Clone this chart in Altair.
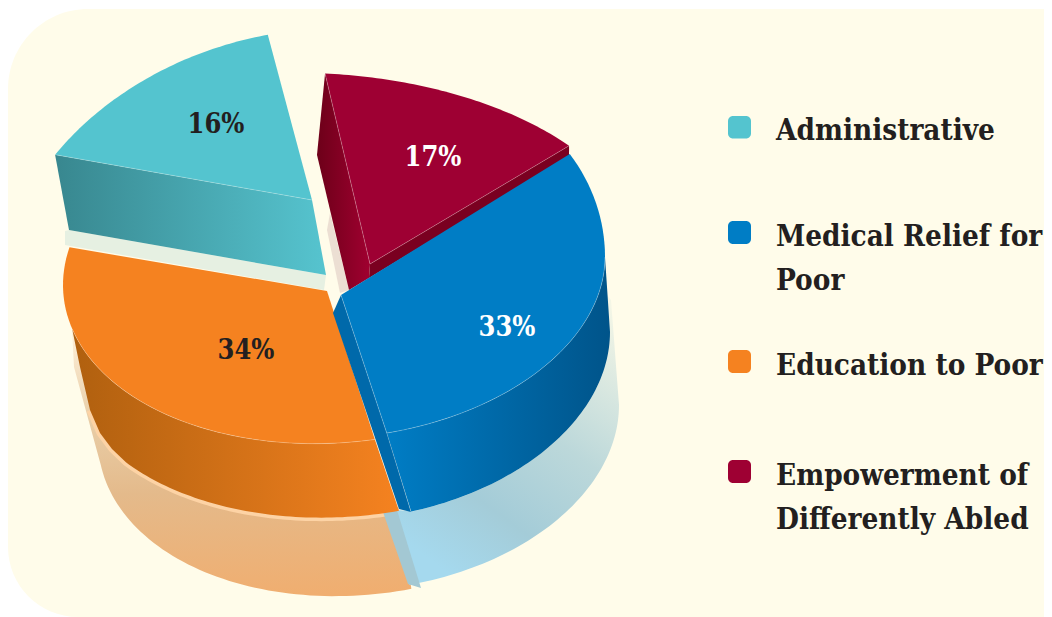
import numpy as np
import pandas as pd
import altair as alt

# ---- data ----
categories = ["Administrative", "Medical Relief for Poor", "Education to Poor", "Empowerment of Differently Abled"]
shares = [16, 33, 34, 17]
legend_lines = [["Administrative"], ["Medical Relief for", "Poor"], ["Education to Poor"], ["Empowerment of", "Differently Abled"]]

# ---- styles ----
TEAL, BLUE, ORANGE, CRIMSON = "#54c4cf", "#007dc5", "#f58220", "#9e0033"
INK = "#231f20"
CREAM = "#fffcea"
FONT = "DejaVu Serif Condensed"

# ---- view geometry: ellipses of the tilted drawing ----
def E(cx, cy, rx, ry, s=15, ry_up=None):
    return dict(cx=cx, cy=cy, rx=rx, ry=ry, s=s, ry_up=ry_up or ry)

def pts(e, t0, t1, n=60):
    out = []
    for t in np.radians(np.linspace(t0, t1, n)):
        c = np.cos(t)
        r = e["ry_up"] if c > 0 else e["ry"]
        out.append((e["cx"] + e["rx"] * np.sin(t), e["cy"] - r * c - e["s"] * np.sin(t)))
    return out

X = alt.X("x:Q", axis=None, scale=alt.Scale(domain=[8, 1044], nice=False, zero=False))
Y = alt.Y("y:Q", axis=None, scale=alt.Scale(domain=[617, 8], nice=False, zero=False))

def grad(stops, x1=0, y1=0, x2=1, y2=0):
    return alt.Gradient(gradient="linear", x1=x1, y1=y1, x2=x2, y2=y2,
                        stops=[alt.GradientStop(offset=o, color=c) for o, c in stops])

def poly(points, fill):
    df = pd.DataFrame(points, columns=["x", "y"]).assign(i=lambda d: range(len(d)))
    return alt.Chart(df).mark_line(fill=fill, strokeWidth=0, strokeOpacity=0).encode(x=X, y=Y, order="i:Q")

def seam(points, color="#ffffff", opacity=0.3, width=0.8):
    df = pd.DataFrame(points, columns=["x", "y"]).assign(i=lambda d: range(len(d)))
    return alt.Chart(df).mark_line(stroke=color, strokeOpacity=opacity, strokeWidth=width).encode(x=X, y=Y, order="i:Q")

# angular extent of each slice comes from its share, foreshortened by the tilt
def sweep(name, start, stretch):
    return start, start + shares[categories.index(name)] * 3.6 * stretch

T0, T1 = sweep(categories[0], 305.9, 0.863)
B0, B1 = sweep(categories[1], 60.0, 0.9276)
O0, O1 = sweep(categories[2], 172.3, 0.90)
C0, C1 = sweep(categories[3], -1.9, 0.869)

teal_top = E(290, 262, 290, 230.5, s=34.4)
blue_top = E(342, 272, 263, 166, ry_up=210)
blue_bot = E(350, 347, 260, 173)
blue_ref = E(365, 420, 254, 170)
orange_top = E(338, 270, 275, 173)
orange_bot = E(345, 344, 278, 173)
orange_ref = E(365, 420, 267, 175, s=20)
crimson_top = E(335, 226, 300, 152, s=-19)

layers = []

# card behind the chart
card = pd.DataFrame({"x": [8], "x2": [1044], "y": [9], "y2": [617]})
layers.append(alt.Chart(card).mark_rect(color=CREAM, cornerRadiusTopLeft=80, cornerRadiusBottomLeft=70).encode(
    x=X, x2="x2:Q", y=Y, y2="y2:Q"))

# soft reflected base
wall_left = [(73, 333), (80, 367), (90, 410), (100, 433), (112, 449)]
layers.append(poly(pts(orange_ref, 170, 262) + [(83, 400), (74, 367), (72, 329)] + pts(orange_bot, 232, 168.8),
                   grad([(0, "#fdeed6"), (0.3, "#e9cfa9"), (0.6, "#e4ba8b"), (1, "#f0ae70")], 0.5, 0, 0.55, 1)))
layers.append(seam(pts(orange_bot, 168.8, 232) + wall_left[::-1][:3], "#fdd3a5", 1, 7))
layers.append(poly(pts(blue_ref, 170, 90) + [(611, 300)] + pts(blue_bot, 75, 166) + [(397, 510)],
                   grad([(0, "#f4f6e6"), (0.45, "#bcd8da"), (0.75, "#a4ccd8"), (1, "#a5d9ee")], 0.85, 0, 0.3, 1)))
layers.append(poly([(383, 512), (397, 510), (421, 588), (408, 584)], "#a3c8d3"))
layers.append(poly([(327, 230), (330, 213), (349, 290), (340, 293)], "#ecdfd3"))
layers.append(poly([(65, 231), (69, 230), (326, 275), (324, 290), (65, 245)], "#e6f0e2"))

# teal slice
tt = pts(teal_top, T0, T1)
layers.append(poly([tt[0], (69, 230), (326, 275), (312, 200)], grad([(0, "#38878f"), (1, "#56c4cf")])))
layers.append(poly([(312, 200)] + tt, TEAL))
layers.append(seam([tt[0], (312, 200)]))

# crimson slice
ct = pts(crimson_top, C0, C1)
layers.append(poly([ct[0], (317, 155), (349, 290), (369, 278), (370, 264)], grad([(0, "#6d0019"), (1, "#a00030")])))
layers.append(poly([(370, 264), (369, 278), (569, 157), ct[-1]], "#7a0020"))
layers.append(poly([(370, 264)] + ct, CRIMSON))
layers.append(seam([ct[0], (370, 264), ct[-1]]))

# orange slice
ot = pts(orange_top, O0, O1)
layers.append(poly(pts(orange_top, O0, 255) + wall_left + pts(orange_bot, 232, 168.8),
                   grad([(0, "#f58220"), (1, "#b0600f")], 1, 0, 0, 0)))
layers.append(poly([(327, 291)] + ot, ORANGE))
layers.append(seam(pts(orange_top, O0, 255), "#ffffff", 0.3))

# blue slice
bt = pts(blue_top, B0, B1)
layers.append(poly(pts(blue_top, 90, B1) + pts(blue_bot, 166.4, 90),
                   grad([(0, "#007dc5"), (1, "#00548a")])))
layers.append(poly([(341, 295), (333, 313), (399, 509), (411, 512), bt[-1]], "#0069aa"))
layers.append(poly([(341, 295)] + bt, BLUE))
layers.append(seam(pts(blue_top, 90, B1) + [(341, 295)]))
layers.append(seam([bt[-1], (411, 512)], "#ffffff", 0.2))

# percentage labels
labels = pd.DataFrame({
    "x": [216, 507, 246, 433], "y": [133, 336, 359, 166],
    "text": [f"{v}%" for v in shares],
    "color": [INK, "#ffffff", INK, "#ffffff"],
})
layers.append(alt.Chart(labels).mark_text(font=FONT, fontWeight="bold", fontSize=27, baseline="alphabetic", align="center").encode(
    x=X, y=Y, text="text:N", color=alt.Color("color:N", scale=None)))

# legend
swatches = pd.DataFrame({"x": [728] * 4, "x2": [751] * 4, "y": [116, 221, 350, 460], "y2": [138.5, 244, 373, 483],
                         "c": [TEAL, BLUE, ORANGE, CRIMSON]})
layers.append(alt.Chart(swatches).mark_rect(cornerRadius=5).encode(
    x=X, x2="x2:Q", y=Y, y2="y2:Q", color=alt.Color("c:N", scale=None)))
baselines = [[140], [246, 290], [375], [485, 529]]
rows = [{"x": 776, "y": b, "text": line} for lines, bs in zip(legend_lines, baselines) for line, b in zip(lines, bs)]
layers.append(alt.Chart(pd.DataFrame(rows)).mark_text(font=FONT, fontWeight="bold", fontSize=29.4, baseline="alphabetic", align="left", color=INK).encode(
    x=X, y=Y, text="text:N"))

chart = alt.layer(*layers).properties(
    width=1036, height=609, padding=0, autosize=alt.AutoSizeParams(type="none"),
    background="#ffffff",
).configure_view(stroke=None)

chart.save("out.html", embed_options={"renderer": "svg", "actions": False})
